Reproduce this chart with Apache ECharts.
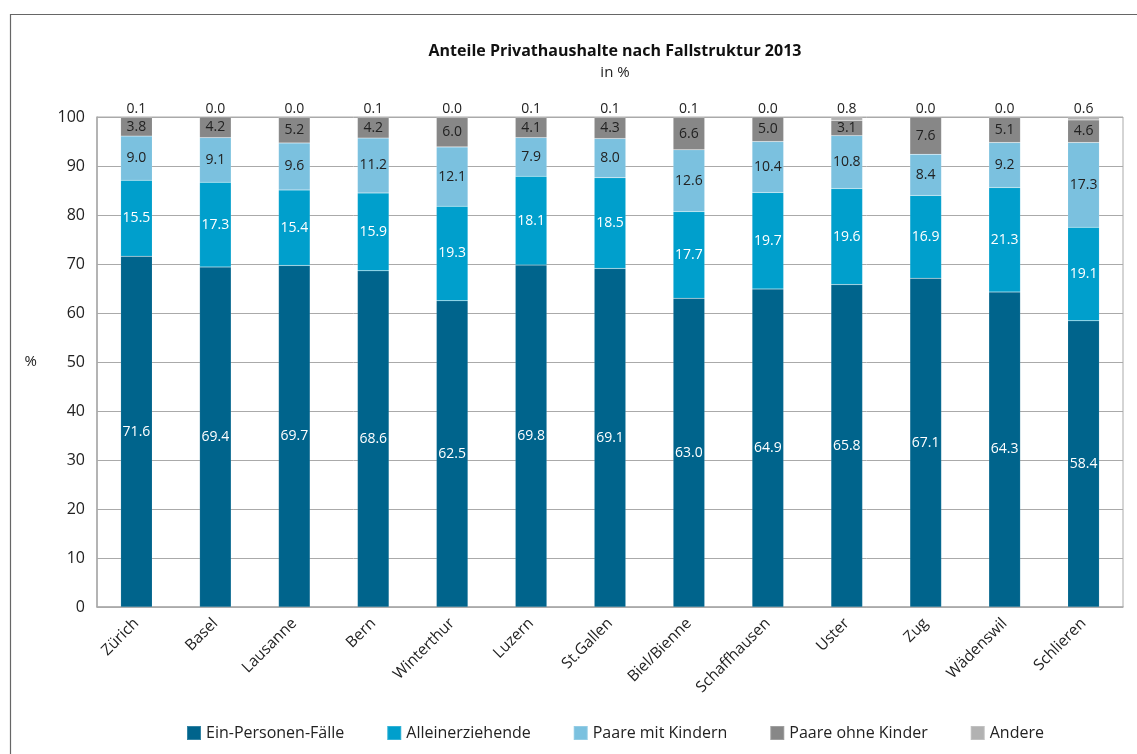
<!DOCTYPE html>
<html><head><meta charset="utf-8">
<script src="https://cdn.jsdelivr.net/npm/echarts@6/dist/echarts.min.js"></script>
<style>html,body{margin:0;padding:0;background:#fff}#c{width:1137px;height:754px}</style>
</head><body><div id="c"></div>
<script>
const categories = ["Zürich","Basel","Lausanne","Bern","Winterthur","Luzern","St.Gallen","Biel/Bienne","Schaffhausen","Uster","Zug","Wädenswil","Schlieren"];
const einPersonen = [71.6,69.4,69.7,68.6,62.5,69.8,69.1,63.0,64.9,65.8,67.1,64.3,58.4];
const alleinerziehende = [15.5,17.3,15.4,15.9,19.3,18.1,18.5,17.7,19.7,19.6,16.9,21.3,19.1];
const paareMitKindern = [9.0,9.1,9.6,11.2,12.1,7.9,8.0,12.6,10.4,10.8,8.4,9.2,17.3];
const paareOhneKinder = [3.8,4.2,5.2,4.2,6.0,4.1,4.3,6.6,5.0,3.1,7.6,5.1,4.6];
const andere = [0.1,0.0,0.0,0.1,0.0,0.1,0.1,0.1,0.0,0.8,0.0,0.0,0.6];
const yTicks = [0,10,20,30,40,50,60,70,80,90,100];

const FONT = "'Open Sans', 'Noto Sans', sans-serif";
const chart = echarts.init(document.getElementById('c'), null, {renderer:'canvas'});
function mk(name, data, color, labelColor, pos) {
  return {
    name, type:'bar', stack:'s', data, barWidth:'40%',
    itemStyle:{color, borderColor:'rgba(255,255,255,0.2)', borderWidth:0.5},
    label:{show:true, position:pos||'inside', color:labelColor, fontFamily:FONT, fontSize:14,
      distance:1, formatter:p=>p.value.toFixed(1)},
    emphasis:{disabled:true}
  };
}
chart.setOption({
  animation:false,
  textStyle:{fontFamily:FONT},
  graphic:[{type:'rect', left:8, top:12, shape:{width:1200, height:800}, style:{fill:'none', stroke:'#666', lineWidth:1.2}, silent:true}],
  title:{text:'Anteile Privathaushalte nach Fallstruktur 2013', subtext:'in %', left:610, textAlign:'center', top:38,
    textStyle:{fontFamily:FONT, fontWeight:'bold', fontSize:16, color:'#111'},
    subtextStyle:{fontFamily:FONT, fontSize:15, color:'#222'}, itemGap:6},
  legend:{bottom:8, left:181, icon:'rect', itemWidth:14, itemHeight:14, itemGap:42,
    textStyle:{fontFamily:FONT, fontSize:16, color:'#222'},
    data:['Ein-Personen-Fälle','Alleinerziehende','Paare mit Kindern','Paare ohne Kinder','Andere']},
  grid:{left:97, right:14, top:117, bottom:147, show:true, borderColor:'#aaa', borderWidth:1},
  xAxis:{type:'category', data:categories, axisTick:{show:false},
    axisLine:{lineStyle:{color:'#aaa', width:1.5}},
    axisLabel:{rotate:45, fontFamily:FONT, fontSize:15.5, color:'#222', margin:14, interval:0}},
  yAxis:{type:'value', min:0, max:100, interval:10, name:'%', nameLocation:'middle', nameRotate:0, nameGap:60,
    nameTextStyle:{fontFamily:FONT, fontSize:15, color:'#222'},
    axisLine:{show:true, lineStyle:{color:'#aaa', width:1.5}}, axisTick:{show:false},
    splitLine:{lineStyle:{color:'#aaa', width:1}},
    axisLabel:{fontFamily:FONT, fontSize:16, color:'#222', margin:12,
      formatter:v=>yTicks.includes(v)?String(v):''}},
  series:[
    mk('Ein-Personen-Fälle', einPersonen, '#00648c', '#fff'),
    mk('Alleinerziehende', alleinerziehende, '#009fcc', '#fff'),
    mk('Paare mit Kindern', paareMitKindern, '#7bc1df', '#222'),
    mk('Paare ohne Kinder', paareOhneKinder, '#878787', '#222'),
    mk('Andere', andere, '#b2b2b2', '#222', 'top')
  ]
});
</script></body></html>
